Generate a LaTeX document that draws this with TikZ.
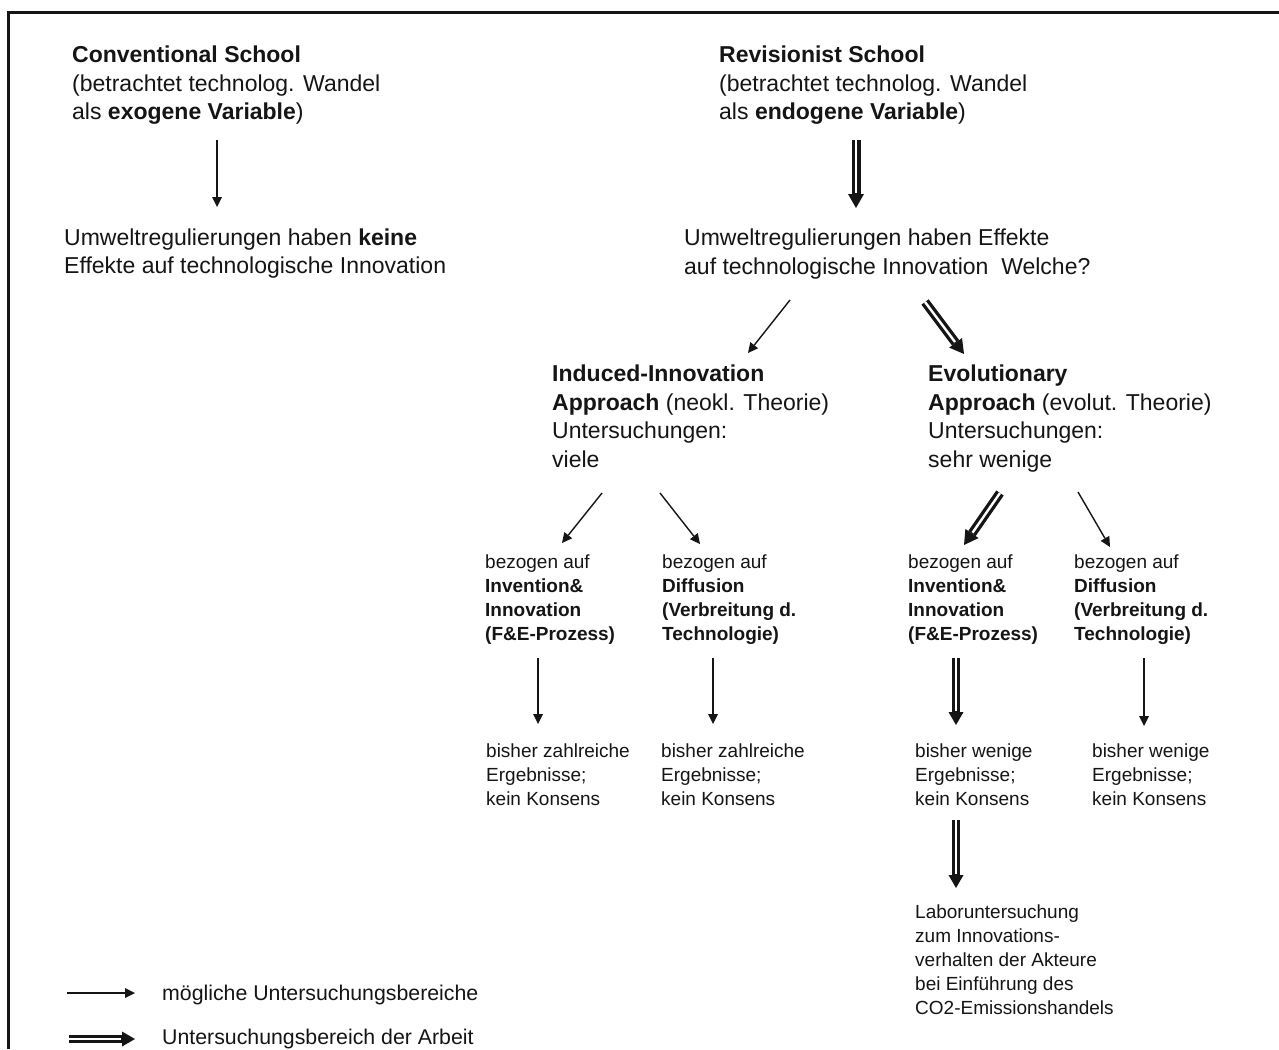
\documentclass[tikz,border=0pt]{standalone}
\usepackage{fontspec}
\setmainfont{Liberation Sans}
\usetikzlibrary{arrows.meta}

\definecolor{ink}{HTML}{151515}

\tikzset{
  bigtxt/.style={anchor=north west, inner sep=0pt, align=left, text=ink,
    font=\fontsize{23}{28.5}\selectfont},
  smalltxt/.style={anchor=north west, inner sep=0pt, align=left, text=ink,
    font=\fontsize{19}{24}\selectfont},
  legendtxt/.style={anchor=base west, inner sep=0pt, text=ink,
    font=\fontsize{21.3}{25}\selectfont},
  thinarr/.style={draw=ink, line width=1.4pt,
    -{Triangle[width=10pt,length=10pt,line width=0pt]}},
  dblarr/.style={draw=ink, line width=9pt,
    -{Triangle[width=16pt,length=14pt,line width=0pt]},
    postaction={draw=white, line width=2.4pt, -, shorten >=15pt}},
  dblarrb/.style={draw=ink, line width=8pt,
    -{Triangle[width=15pt,length=13pt,line width=0pt]},
    postaction={draw=white, line width=2pt, -, shorten >=14pt}},
  framestroke/.style={draw=ink, line width=2.4pt},
}

\begin{document}
\begin{tikzpicture}[x=1pt,y=-1pt]
% page
\useasboundingbox (0,0) rectangle (1279,1049);
\fill[white] (0,0) rectangle (1279,1049);

% frame (top and left edges)
\coordinate (frTL) at (8.5,12.5);
\coordinate (frTR) at (1279,12.5);
\coordinate (frBL) at (8.5,1049);
\draw[framestroke] (frTR) -- (frTL) -- (frBL);

% ---- top level: the two schools
\node[bigtxt] (conv) at (72,42.5)
  {\strut\textbf{Conventional School}\\(betrachtet technolog. Wandel\\als \textbf{exogene Variable})};
\node[bigtxt] (revi) at (719,42.5)
  {\strut\textbf{Revisionist School}\\(betrachtet technolog. Wandel\\als \textbf{endogene Variable})};

\node[bigtxt] (keine) at (64,225)
  {\strut Umweltregulierungen haben \textbf{keine}\\Effekte auf technologische Innovation};
\node[bigtxt] (effekte) at (684,225.5)
  {\strut Umweltregulierungen haben Effekte\\auf technologische Innovation\ \ Welche?};

% ---- approaches
\node[bigtxt] (induced) at (552,361.5)
  {\strut\textbf{Induced-Innovation}\\\textbf{Approach} (neokl. Theorie)\\Untersuchungen:\\viele};
\node[bigtxt] (evol) at (928,361.5)
  {\strut\textbf{Evolutionary}\\\textbf{Approach} (evolut. Theorie)\\Untersuchungen:\\sehr wenige};

% ---- fields of study
\node[smalltxt] (indInv) at (485,551.2)
  {\strut bezogen auf\\\textbf{Invention\&}\\\textbf{Innovation}\\\textbf{(F\&E-Prozess)}};
\node[smalltxt] (indDif) at (662,551.2)
  {\strut bezogen auf\\\textbf{Diffusion}\\\textbf{(Verbreitung d.}\\\textbf{Technologie)}};
\node[smalltxt] (evoInv) at (908,551.2)
  {\strut bezogen auf\\\textbf{Invention\&}\\\textbf{Innovation}\\\textbf{(F\&E-Prozess)}};
\node[smalltxt] (evoDif) at (1074,551.2)
  {\strut bezogen auf\\\textbf{Diffusion}\\\textbf{(Verbreitung d.}\\\textbf{Technologie)}};

% ---- results so far
\node[smalltxt] (resA) at (486,740.2)
  {\strut bisher zahlreiche\\Ergebnisse;\\kein Konsens};
\node[smalltxt] (resB) at (661,740.2)
  {\strut bisher zahlreiche\\Ergebnisse;\\kein Konsens};
\node[smalltxt] (resC) at (915,740.2)
  {\strut bisher wenige\\Ergebnisse;\\kein Konsens};
\node[smalltxt] (resD) at (1092,740.2)
  {\strut bisher wenige\\Ergebnisse;\\kein Konsens};

% ---- own study
\node[smalltxt] (labor) at (915,901.2)
  {\strut Laboruntersuchung\\zum Innovations-\\verhalten der Akteure\\bei Einführung des\\CO2-Emissionshandels};

% ---- connector end points
\coordinate (c1s) at (217,140);   \coordinate (c1e) at (217,207);
\coordinate (c2s) at (856,140);   \coordinate (c2e) at (856,208);
\coordinate (c3s) at (790,300);   \coordinate (c3e) at (748,353);
\coordinate (c4s) at (925,302);   \coordinate (c4e) at (964,354);
\coordinate (c5s) at (602,493);   \coordinate (c5e) at (562,543);
\coordinate (c6s) at (660,493);   \coordinate (c6e) at (700,544);
\coordinate (c7s) at (1000,493);  \coordinate (c7e) at (964,545);
\coordinate (c8s) at (1078,492);  \coordinate (c8e) at (1110,547);
\coordinate (c9s) at (538,658);   \coordinate (c9e) at (538,724);
\coordinate (c10s) at (713,658);  \coordinate (c10e) at (713,724);
\coordinate (c11s) at (956,658);  \coordinate (c11e) at (956,725);
\coordinate (c12s) at (1144,658); \coordinate (c12e) at (1144,726);
\coordinate (c13s) at (956,820);  \coordinate (c13e) at (956,888);

% ---- connectors
\draw[thinarr] (c1s) -- (c1e);
\draw[dblarr]  (c2s) -- (c2e);
\draw[thinarr] (c3s) -- (c3e);
\draw[dblarr]  (c4s) -- (c4e);
\draw[thinarr] (c5s) -- (c5e);
\draw[thinarr] (c6s) -- (c6e);
\draw[dblarr]  (c7s) -- (c7e);
\draw[thinarr] (c8s) -- (c8e);
\draw[thinarr] (c9s) -- (c9e);
\draw[thinarr] (c10s) -- (c10e);
\draw[dblarrb] (c11s) -- (c11e);
\draw[thinarr] (c12s) -- (c12e);
\draw[dblarrb] (c13s) -- (c13e);

% ---- legend
\coordinate (lg1s) at (67,993);   \coordinate (lg1e) at (135,993);
\coordinate (lg2s) at (69,1039);  \coordinate (lg2e) at (135,1039);
\draw[thinarr] (lg1s) -- (lg1e);
\draw[dblarrb] (lg2s) -- (lg2e);
\node[legendtxt] (lgA) at (162,1000) {mögliche Untersuchungsbereiche};
\node[legendtxt] (lgB) at (162,1044) {Untersuchungsbereich der Arbeit};
\end{tikzpicture}
\end{document}
